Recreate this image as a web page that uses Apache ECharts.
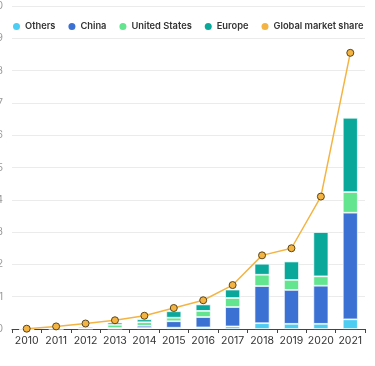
<!DOCTYPE html>
<html>
<head>
<meta charset="utf-8">
<script src="https://cdn.jsdelivr.net/npm/echarts@6/dist/echarts.min.js"></script>
<style>
html,body{margin:0;padding:0;background:#fff;}
#chart{width:375px;height:366px;}
</style>
</head>
<body>
<div id="chart"></div>
<script>
var years = ['2010','2011','2012','2013','2014','2015','2016','2017','2018','2019','2020','2021'];
var others = [0.002, 0.005, 0.01, 0.01, 0.03, 0.04, 0.05, 0.08, 0.18, 0.16, 0.16, 0.3];
var china = [0.002, 0.005, 0.01, 0.02, 0.07, 0.2, 0.32, 0.6, 1.15, 1.05, 1.18, 3.3];
var unitedStates = [0.003, 0.015, 0.05, 0.1, 0.11, 0.11, 0.19, 0.28, 0.35, 0.31, 0.29, 0.64];
var europe = [0.005, 0.01, 0.02, 0.07, 0.09, 0.2, 0.2, 0.26, 0.34, 0.57, 1.37, 2.3];
var marketShare = [0.01, 0.08, 0.17, 0.27, 0.41, 0.65, 0.89, 1.36, 2.28, 2.5, 4.1, 8.55];
var yTicks = [0, 10, 1];
var legendNames = ['Others', 'China', 'United States', 'Europe', 'Global market share'];

var FONT = 'Inter, "Noto Sans", sans-serif';
var chart = echarts.init(document.getElementById('chart'));
function barSeries(name, data, color) {
  return {
    name: name, type: 'bar', stack: 'sales', data: data, barWidth: 15,
    itemStyle: { color: color, borderColor: 'rgba(255,255,255,0.85)', borderWidth: 0.8 },
    emphasis: { disabled: true }
  };
}
chart.setOption({
  animation: false,
  textStyle: { fontFamily: FONT },
  legend: {
    top: 22, left: 13, width: 362, padding: 0, itemGap: 13, itemWidth: 7, itemHeight: 7,
    icon: 'circle',
    itemStyle: { borderWidth: 0 },
    textStyle: { fontFamily: FONT, fontSize: 9.3, fontWeight: 600, color: '#333' },
    data: legendNames.map(function (n) { return { name: n, icon: 'circle' }; })
  },
  grid: { left: 12, right: 10, top: 6, bottom: 37, containLabel: false, outerBoundsMode: 'none' },
  xAxis: {
    type: 'category', data: years, boundaryGap: true,
    axisLine: { lineStyle: { color: '#444', width: 1 } },
    axisTick: { show: true, length: 4, lineStyle: { color: '#444' } },
    axisLabel: { color: '#333', fontSize: 10.5, margin: 6, interval: 0, fontFamily: FONT }
  },
  yAxis: {
    type: 'value', min: yTicks[0], max: yTicks[1], interval: yTicks[2],
    axisLine: { show: false }, axisTick: { show: false },
    splitLine: { lineStyle: { color: '#ebebeb', width: 1 } },
    axisLabel: { color: '#999', fontSize: 10, margin: 9 }
  },
  series: [
    barSeries('Others', others, '#4dcdf2'),
    barSeries('China', china, '#3b71d3'),
    barSeries('United States', unitedStates, '#62e58e'),
    barSeries('Europe', europe, '#0aa89b'),
    {
      name: 'Global market share', type: 'line', data: marketShare, z: 5,
      symbol: 'circle', symbolSize: 7,
      lineStyle: { color: '#f4b443', width: 1.5 },
      itemStyle: { color: '#f4b443', borderColor: '#5a4418', borderWidth: 1 },
      emphasis: { disabled: true }
    }
  ]
});
</script>
</body>
</html>
